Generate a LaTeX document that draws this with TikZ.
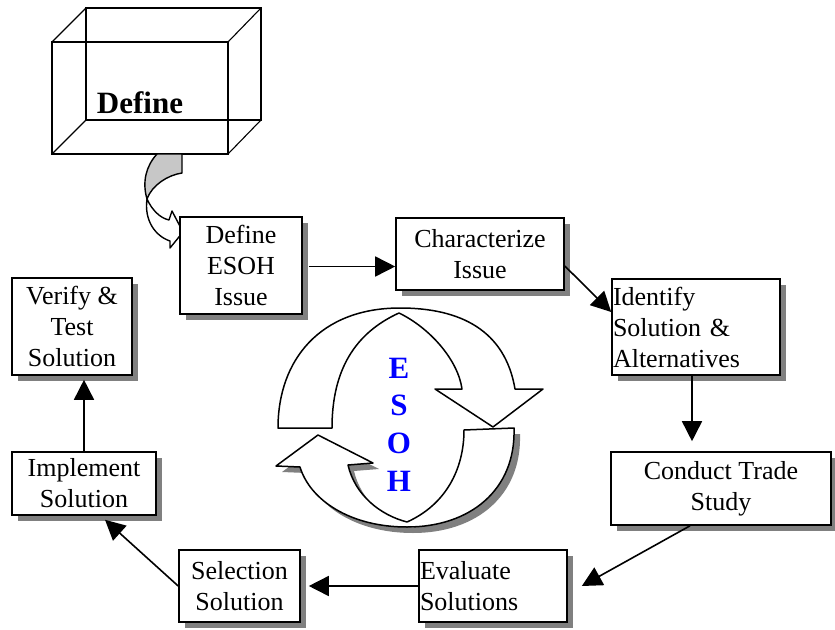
\documentclass[tikz,border=0pt]{standalone}
\usepackage{fontspec}
\setmainfont{Liberation Serif}
\usetikzlibrary{shadows,arrows.meta}

\begin{document}
\begin{tikzpicture}[x=1pt,y=-1pt,
  shadowed/.style={drop shadow={shadow xshift=6pt,shadow yshift=-6pt,fill=black!50,opacity=1}},
  stepbox/.style={draw,line width=1.6pt,fill=white,inner sep=0pt,
    font=\fontsize{26}{31}\selectfont,align=center,shadowed},
  leftbox/.style={stepbox,align=left,inner xsep=1pt},
  flow/.style={line width=1.6pt,-{Triangle[length=20pt,width=20pt]}},
  cyc/.style={draw,fill=white,line width=1.5pt,line join=round},
  letter/.style={anchor=base,text=blue,font=\bfseries\fontsize{31}{31}\selectfont,inner sep=0pt}]

\useasboundingbox (0,0) rectangle (835,629);

% wireframe block holding the phase title
\begin{scope}[line width=1.1pt]
  \draw (86,8) rectangle (261,120);
  \draw (52,42) rectangle (228,154);
  \draw (52,42) -- (86,8) (228,42) -- (261,8) (52,154) -- (86,120) (228,154) -- (261,120);
\end{scope}
\node[anchor=base,inner sep=0pt,font=\bfseries\fontsize{31}{31}\selectfont] (title) at (140,113) {Define};

% twisted block arrow leading into the first step
\filldraw[fill=black!22,line width=1.4pt,line join=round]
  (157,154) -- (182,154) -- (182,173)
  .. controls (168,175) and (152,185) .. (147,199)
  .. controls (142,182) and (146,166) .. (157,154) -- cycle;
\filldraw[fill=white,line width=1.4pt,line join=round]
  (147,199) .. controls (152,210) and (160,218) .. (169,220)
  -- (172,211) -- (183,232) -- (170,248) -- (170,241)
  .. controls (155,236) and (144,220) .. (147,199) -- cycle;

% process steps
\node[stepbox,minimum width=122pt,minimum height=97pt] (defesoh) at (241,265.5) {Define\\ESOH\\Issue};
\node[stepbox,minimum width=168pt,minimum height=72pt] (charact) at (480,254) {Characterize\\Issue};
\node[leftbox,text width=166pt,minimum height=96pt] (ident) at (696,327) {Identify\\Solution \&\\Alternatives};
\node[stepbox,minimum width=220pt,minimum height=73pt] (conduct) at (721,488.5) {Conduct Trade\\Study};
\node[leftbox,text width=146pt,minimum height=72pt] (evaluate) at (493,586) {Evaluate\\Solutions};
\node[stepbox,minimum width=121pt,minimum height=72pt] (selection) at (239.5,586) {Selection\\Solution};
\node[stepbox,minimum width=144pt,minimum height=63pt] (implement) at (84,483.5) {Implement\\Solution};
\node[stepbox,minimum width=120pt,minimum height=97pt] (verify) at (72,326.5) {Verify \&\\Test\\Solution};

% connectors between the steps
\draw[flow] ([xshift=6pt,yshift=-1pt]defesoh.east) -- ([yshift=-1pt]defesoh.east -| charact.west);
\draw[flow] ([yshift=-12pt]charact.east) -- ([yshift=15pt]ident.west);
\draw[flow,shorten >=10pt] ([xshift=-4pt]ident.south) -- ([xshift=-4pt]ident.south |- conduct.north);
\draw[flow] ([xshift=-31pt]conduct.south) -- ([xshift=14pt]evaluate.east);
\draw[flow] (evaluate.west) -- ([xshift=8pt]selection.east);
\draw[flow] (selection.west) -- ([xshift=21pt,yshift=-4pt]implement.south);
\draw[flow,shorten >=4pt] (implement.north) -- (implement.north |- verify.south);

% circular ESOH cycle
\path[cyc,shadowed]
  (464,430) -- (514,428)
  .. controls (516,490) and (470,527) .. (407,527)
  .. controls (350,527) and (310,500) .. (300,467)
  -- (276,466) -- (318,435) -- (373,463) -- (348,465)
  .. controls (355,495) and (380,515) .. (407,522)
  .. controls (445,505) and (464,470) .. (464,430) -- cycle;
\path[cyc]
  (278,428) -- (332,428)
  .. controls (332,370) and (355,333) .. (399,313)
  .. controls (430,328) and (458,360) .. (462,389)
  -- (435,389) -- (493,427) -- (543,389) -- (515,389)
  .. controls (505,330) and (460,308) .. (400,308)
  .. controls (320,308) and (278,360) .. (278,428) -- cycle;

\node[letter] (le) at (399,378) {E};
\node[letter] (ls) at (399,415) {S};
\node[letter] (lo) at (399,453) {O};
\node[letter] (lh) at (399,491) {H};
\end{tikzpicture}
\end{document}
